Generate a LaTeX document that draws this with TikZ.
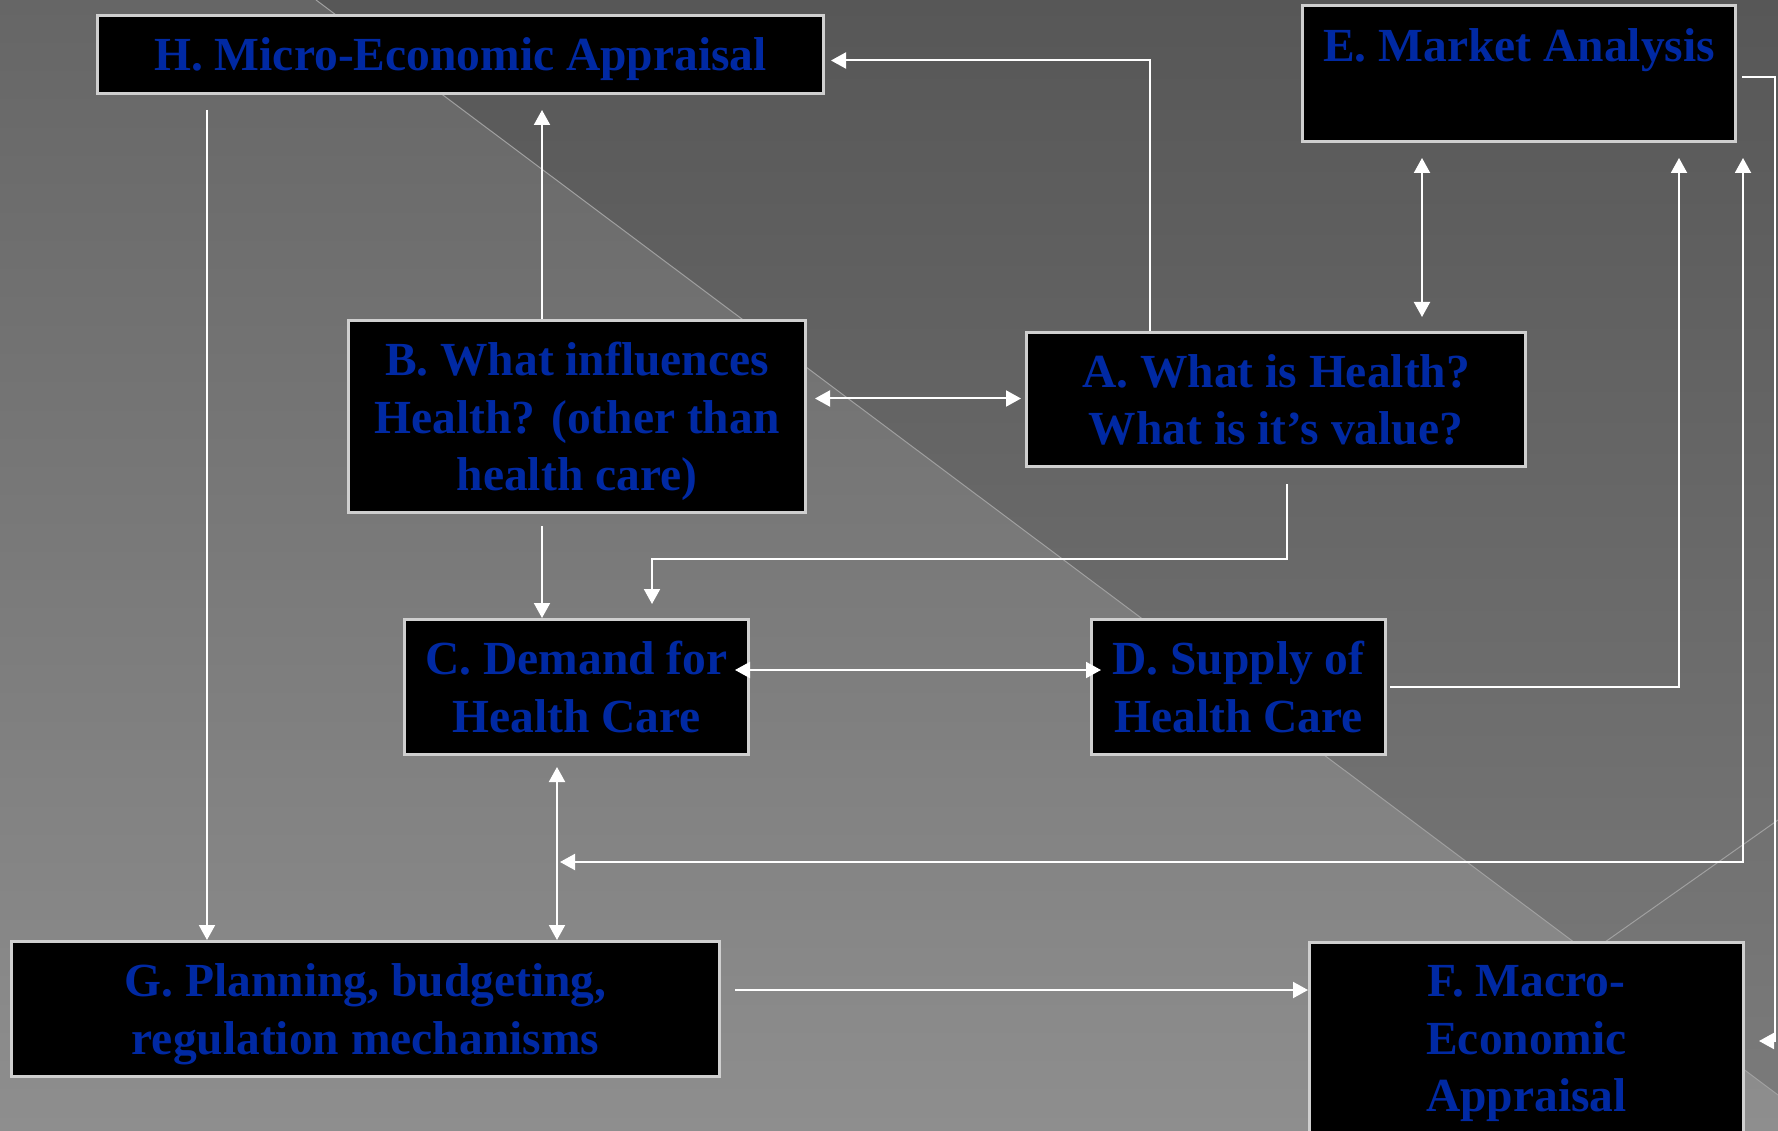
\documentclass[tikz,border=0pt]{standalone}
\usepackage{fontspec}
\usepackage{xcolor}
\usepackage{tikz}
\usetikzlibrary{arrows.meta, positioning, calc}
\setmainfont{Liberation Serif}

\definecolor{bgtop}{HTML}{666666}
\definecolor{bgbot}{HTML}{8E8E8E}
\definecolor{tritop}{HTML}{575757}
\definecolor{tribot}{HTML}{7A7A7A}
\definecolor{diagline}{HTML}{A0A0A0}
\definecolor{boxline}{HTML}{CFCFCF}
\definecolor{titleblue}{HTML}{0029A3}

\begin{document}
\begin{tikzpicture}[x=1pt, y=-1pt,
  box/.style={draw=boxline, fill=black, line width=3pt, inner sep=0pt, align=center,
    text depth=0pt, text=titleblue, font=\fontsize{47.5}{57.5}\selectfont\bfseries},
  link/.style={draw=white, line width=2pt},
  >={Triangle[length=15pt, width=16pt]}]
\useasboundingbox (0,0) rectangle (1778,1131);
\clip (0,0) rectangle (1778,1131);

% Background
\shade[top color=bgtop, bottom color=bgbot] (0,0) rectangle (1778,1131);
\shade[top color=tritop, bottom color=tribot] (316,0) -- (1778,0) -- (1778,1095) -- cycle;
\draw[diagline, line width=1pt] (316,0) -- (1778,1095);
\draw[diagline, line width=1pt] (1778,820) -- (1337,1131);

% Top row
\node[box, minimum width=726, minimum height=78] (micro) at (460.5,54.5) {H. Micro-Economic Appraisal};
\node[box, minimum width=433, minimum height=136] (market) at (1519,73.5) {E. Market Analysis\\\mbox{}};

% Middle rows
\node[box, minimum width=457, minimum height=192] (influ) at (577,416.5) {B. What influences\\Health? (other than\\health care)};
\node[box, minimum width=499, minimum height=134] (health) at (1276,399.5) {A. What is Health?\\What is it’s value?};
\node[box, minimum width=344, minimum height=135] (demand) at (576.5,687) {C. Demand for\\Health Care};
\node[box, minimum width=294, minimum height=135] (supply) at (1238.5,687) {D. Supply of\\Health Care};

% Bottom row
\node[box, minimum width=708, minimum height=135] (plan) at (365.5,1009) {G. Planning, budgeting,\\regulation mechanisms};
\node[box, minimum width=434, minimum height=192] (macro) at (1526.5,1038.5) {F. Macro-\\Economic\\Appraisal};

\coordinate (junc) at (557,862);

% Links
\draw[link, ->, shorten >=6pt] ([xshift=-126pt]health.north) |- ([yshift=-6pt]micro.east);
\draw[link, ->] ([xshift=-253.5pt,yshift=-15pt]micro.south) -- ([xshift=-253.5pt]micro.south |- plan.north);
\draw[link, ->, shorten >=15pt] ([xshift=-35pt]influ.north) -- ([xshift=-35pt]influ.north |- micro.south);
\draw[link, <->, shorten <=8pt, shorten >=4pt] ([yshift=18pt]influ.east) -- ([yshift=18pt]influ.east -| health.west);
\draw[link, ->, shorten <=12pt] ([xshift=-35pt]influ.south) -- ([xshift=-35pt]influ.south |- demand.north);
\draw[link, ->, shorten >=14pt] ([xshift=11pt,yshift=-16pt]health.south) -- ++(0,75) -| ([xshift=75.5pt]demand.north);
\draw[link, <->, shorten <=-15pt, shorten >=-11pt] ([yshift=17pt]demand.east) -- ([yshift=17pt]demand.east -| supply.west);
\draw[link, <->, shorten <=15pt, shorten >=14pt] ([xshift=-97pt]market.south) -- ([xshift=-97pt]market.south |- health.north);
\draw[link, ->, shorten >=15pt] ([xshift=3pt]supply.east) -| ([xshift=160pt]market.south);
\draw[link, ->, shorten >=14pt] ([xshift=5pt,yshift=-4pt]market.east) -- ++(33,0) |- ([yshift=-2.5pt]macro.east);
\draw[link, <->, shorten <=3pt, shorten >=15pt] (junc) -| ([xshift=224pt]market.south);
\draw[link, <->, shorten <=11pt] ([xshift=-19.5pt]demand.south) -- ([xshift=-19.5pt]demand.south |- plan.north);
\draw[link, ->, shorten <=14pt] ([yshift=19pt]plan.east) -- ([yshift=19pt]plan.east -| macro.west);
\end{tikzpicture}
\end{document}
